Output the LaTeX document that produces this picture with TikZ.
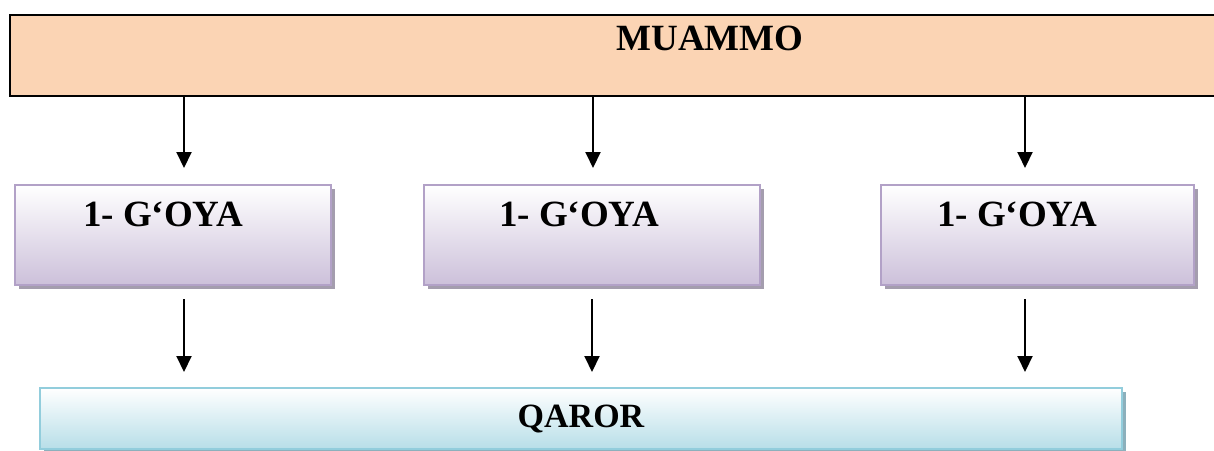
\documentclass[tikz,border=0pt]{standalone}
\usepackage{fontspec}
\setmainfont{Liberation Serif}
\usetikzlibrary{arrows.meta,shadows}
\definecolor{peach}{HTML}{FBD4B4}
\definecolor{lavline}{HTML}{B2A1C7}
\definecolor{lavfill}{HTML}{CCC0DA}
\definecolor{lavshadow}{HTML}{A49DAE}
\definecolor{blueline}{HTML}{92CDDC}
\definecolor{bluefill}{HTML}{B7DEE8}
\definecolor{blueshadow}{HTML}{8CB0BC}
\tikzset{
  lbl/.style={font=\bfseries\fontsize{37}{42}\selectfont, inner sep=0pt, text=black},
  qlbl/.style={font=\bfseries\fontsize{34}{38}\selectfont, inner sep=0pt, text=black},
  topbox/.style={draw=black, line width=2.5pt, fill=peach, inner sep=0pt},
  goyabox/.style={draw=lavline, line width=2.5pt, top color=white, bottom color=lavfill, inner sep=0pt,
    drop shadow={shadow xshift=3.5pt, shadow yshift=-3.5pt, fill=lavshadow, opacity=1}},
  qarorbox/.style={draw=blueline, line width=2.5pt, top color=white, bottom color=bluefill, inner sep=0pt,
    drop shadow={shadow xshift=3.5pt, shadow yshift=-3.5pt, fill=blueshadow, opacity=1}},
  arr/.style={line width=2pt, -{Triangle[length=16pt,width=15pt]}},
}
\begin{document}
\begin{tikzpicture}[x=1pt,y=-1pt]
\useasboundingbox (0,0) rectangle (1214,450);
% boxes
\node[topbox, minimum width=1206pt, minimum height=81pt] (top) at (613,55.5) {};
\node[goyabox, minimum width=316pt, minimum height=100pt] (g1) at (173,235) {};
\node[goyabox, minimum width=336pt, minimum height=100pt] (g2) at (592,235) {};
\node[goyabox, minimum width=313pt, minimum height=100pt] (g3) at (1037.5,235) {};
\node[qarorbox, minimum width=1082pt, minimum height=61pt] (q) at (581,418.5) {};
% texts
\node[lbl] (tmuammo) at (710,38) {MUAMMO};
\node[lbl] (tg1) at (163,214) {1- G‘OYA};
\node[lbl] (tg2) at (579,214) {1- G‘OYA};
\node[lbl] (tg3) at (1017,214) {1- G‘OYA};
\node[qlbl] (tq) at (581,419) {QAROR};
% arrow end points
\coordinate (t1) at (184,168);
\coordinate (t2) at (593,168);
\coordinate (t3) at (1025,168);
\coordinate (s1) at (184,299);
\coordinate (s2) at (592,299);
\coordinate (s3) at (1025,299);
\coordinate (e1) at (184,372);
\coordinate (e2) at (592,372);
\coordinate (e3) at (1025,372);
% connectors
\draw[arr] (t1 |- top.south) -- (t1);
\draw[arr] (t2 |- top.south) -- (t2);
\draw[arr] (t3 |- top.south) -- (t3);
\draw[arr] (s1) -- (e1);
\draw[arr] (s2) -- (e2);
\draw[arr] (s3) -- (e3);
\end{tikzpicture}
\end{document}
